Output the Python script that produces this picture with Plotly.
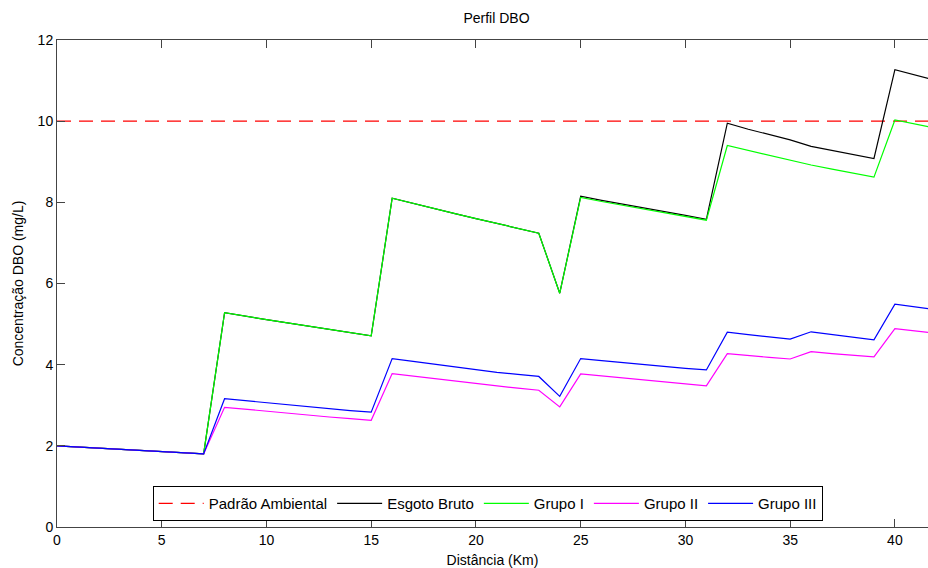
import plotly.graph_objects as go

distancia = list(range(0, 43))

padrao = [10.0] * len(distancia)

esgoto_bruto = [2.00, 1.97, 1.94, 1.91, 1.88, 1.86, 1.83, 1.80,
                5.28, 5.19, 5.11, 5.03, 4.95, 4.87, 4.79, 4.71,
                8.10, 7.97, 7.84, 7.72, 7.60, 7.48, 7.36, 7.24,
                5.76,
                8.15, 8.05, 7.96, 7.87, 7.78, 7.68, 7.58,
                9.95, 9.80, 9.67, 9.54, 9.38, 9.28, 9.18, 9.08,
                11.27, 11.13, 11.00]

grupo1 = [2.00, 1.97, 1.94, 1.91, 1.88, 1.86, 1.83, 1.80,
          5.28, 5.19, 5.11, 5.03, 4.95, 4.87, 4.79, 4.71,
          8.10, 7.97, 7.84, 7.72, 7.60, 7.48, 7.36, 7.24,
          5.76,
          8.12, 8.02, 7.93, 7.84, 7.75, 7.66, 7.56,
          9.40, 9.28, 9.16, 9.05, 8.92, 8.82, 8.72, 8.62,
          10.03, 9.92, 9.82]

grupo2 = [2.00, 1.97, 1.94, 1.91, 1.88, 1.86, 1.83, 1.80,
          2.95, 2.90, 2.85, 2.80, 2.75, 2.71, 2.67, 2.63,
          3.78, 3.72, 3.65, 3.59, 3.53, 3.47, 3.42, 3.37,
          2.96,
          3.77, 3.72, 3.67, 3.62, 3.57, 3.53, 3.48,
          4.27, 4.22, 4.18, 4.14, 4.32, 4.27, 4.23, 4.19,
          4.89, 4.83, 4.77]

grupo3 = [2.00, 1.97, 1.94, 1.91, 1.88, 1.86, 1.83, 1.80,
          3.16, 3.11, 3.06, 3.01, 2.96, 2.92, 2.87, 2.83,
          4.15, 4.08, 4.01, 3.94, 3.87, 3.81, 3.76, 3.71,
          3.22,
          4.15, 4.10, 4.05, 4.00, 3.96, 3.91, 3.87,
          4.80, 4.74, 4.68, 4.63, 4.81, 4.74, 4.67, 4.61,
          5.49, 5.42, 5.35]

x_ticks = [0, 5, 10, 15, 20, 25, 30, 35, 40]
y_ticks = [0, 2, 4, 6, 8, 10, 12]

FONT = "Liberation Sans, Arial, sans-serif"

fig = go.Figure()
fig.add_trace(go.Scatter(x=distancia, y=padrao, mode="lines", name="Padrão Ambiental",
                         line=dict(color="#ff0000", width=1.2, dash="14px,8px")))
fig.add_trace(go.Scatter(x=distancia, y=esgoto_bruto, mode="lines", name="Esgoto Bruto",
                         line=dict(color="#000000", width=1.2)))
fig.add_trace(go.Scatter(x=distancia, y=grupo1, mode="lines", name="Grupo I",
                         line=dict(color="#00ff00", width=1.2)))
fig.add_trace(go.Scatter(x=distancia, y=grupo2, mode="lines", name="Grupo II",
                         line=dict(color="#ff00ff", width=1.2)))
fig.add_trace(go.Scatter(x=distancia, y=grupo3, mode="lines", name="Grupo III",
                         line=dict(color="#0000ff", width=1.2)))

fig.update_layout(
    width=928, height=568,
    margin=dict(l=57, r=0, t=40, b=40.5, autoexpand=False),
    paper_bgcolor="white", plot_bgcolor="white",
    font=dict(family=FONT, size=14, color="#000000"),
    title=dict(text="Perfil DBO", x=0.535, xref="container", xanchor="center",
               y=1 - 18 / 568, yref="container", yanchor="middle",
               font=dict(size=14, color="#000000")),
    showlegend=True,
    legend=dict(orientation="h", x=0.4945, xanchor="center", y=0.012, yanchor="bottom",
                bgcolor="white", bordercolor="#000000", borderwidth=1,
                font=dict(size=15, color="#000000"), itemwidth=45,
                tracegroupgap=0),
    xaxis=dict(range=[0, 41.58], tickvals=x_ticks, ticktext=[str(v) for v in x_ticks],
               showgrid=False, zeroline=False, showline=True, linecolor="#444444",
               linewidth=1, mirror="ticks", ticks="inside", ticklen=8,
               tickcolor="#444444", tickfont=dict(size=14), automargin=False,
               title=dict(text="Distância (Km)", font=dict(size=14), standoff=9)),
    yaxis=dict(range=[0, 12], tickvals=y_ticks, ticktext=[str(v) for v in y_ticks],
               showgrid=False, zeroline=False, showline=True, linecolor="#444444",
               linewidth=1, mirror=False, ticks="inside", ticklen=8,
               tickcolor="#444444", tickfont=dict(size=14), automargin=False,
               title=dict(text="Concentração DBO (mg/L)", font=dict(size=14), standoff=10)),
)

fig.write_html(
    "out.html",
    config={"displayModeBar": False},
    post_script="document.body.style.margin='0';document.body.style.overflow='hidden';",
)
